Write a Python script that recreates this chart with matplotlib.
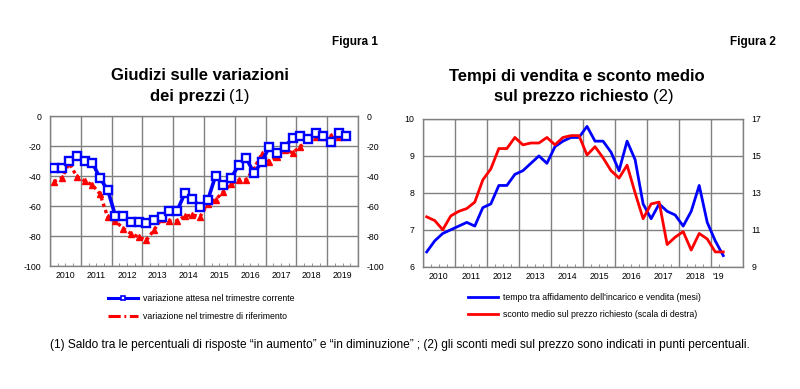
import matplotlib
matplotlib.use('Agg')
import matplotlib.pyplot as plt
from matplotlib.lines import Line2D
from matplotlib.transforms import blended_transform_factory
import numpy as np

plt.rcParams['font.family'] = ['Liberation Sans', 'DejaVu Sans']
plt.rcParams['axes.unicode_minus'] = False

# ---------------- data ----------------
years_left = [2010, 2011, 2012, 2013, 2014, 2015, 2016, 2017, 2018, 2019]
attesa = [-34.4, -34.4, -30, -26.4, -30, -31, -41.6, -49.3, -66.7, -66.7, -70.9, -70.9,
          -71.6, -69.3, -67, -63.3, -63.3, -51.6, -55.1, -60.9, -56, -39.8, -46, -41.6,
          -32.7, -28.2, -38.2, -30.4, -20.4, -24.4, -20.4, -14.9, -13.1, -15, -11.6, -13.1,
          -17.1, -11.6, -13.1]
riferimento = [-43.8, -41.5, -31.6, -40.4, -43.3, -46, -52, -67.5, -70, -75, -78.4, -80.6,
               -82.9, -76, -68.4, -70, -70, -66.8, -66, -67, -58.4, -55.7, -50.6, -45.4,
               -42.8, -42.5, -35, -25.4, -30.5, -27.6, -22.7, -24.5, -20.5, -14.9, -14.3, -13.8,
               -13.4, -14.3, -13]
left_yticks = [0, -20, -40, -60, -80, -100]

years_right = ['2010', '2011', '2012', '2013', '2014', '2015', '2016', '2017', '2018', "'19"]
tempo = [6.4, 6.7, 6.9, 7.0, 7.1, 7.2, 7.1, 7.6, 7.7, 8.2, 8.2, 8.5,
         8.6, 8.8, 9.0, 8.8, 9.25, 9.4, 9.5, 9.5, 9.8, 9.4, 9.4, 9.1,
         8.6, 9.4, 8.9, 7.7, 7.3, 7.7, 7.5, 7.4, 7.1, 7.5, 8.2, 7.2,
         6.7, 6.3]
sconto = [11.7, 11.5, 11.0, 11.75, 12.0, 12.15, 12.5, 13.7, 14.3, 15.4, 15.4, 16.0,
          15.6, 15.7, 15.7, 16.0, 15.6, 16.0, 16.1, 16.1, 15.05, 15.5, 14.9, 14.2,
          13.8, 14.5, 13.0, 11.6, 12.4, 12.5, 10.2, 10.6, 10.9, 9.9, 10.8, 10.5,
          9.8, 9.8]
right_yticks_l = [6, 7, 8, 9, 10]
right_yticks_r = [9, 11, 13, 15, 17]

xl = 2010 + (np.arange(len(attesa)) + 0.5) / 4
xr = 2010 + (np.arange(len(tempo)) + 0.5) / 4

BLUE = '#0000ff'
RED = '#ff0000'
GRID = '#808080'
TICKFS = 6.3

fig = plt.figure(figsize=(8, 3.89), dpi=100)
W, H = 800, 389


def style_axes(ax, xmax, labels, label_pos):
    ax.set_xlim(2010, xmax)
    bounds = [b for b in range(2010, int(np.ceil(xmax)) + 1)]
    ax.set_xticks(bounds)
    ax.set_xticklabels([''] * len(bounds))
    ax.set_xticks(np.arange(2010, xmax + 0.001, 0.25), minor=True)
    ax.tick_params(axis='x', which='major', length=0)
    ax.tick_params(axis='x', which='minor', length=2, direction='in', color=GRID)
    ax.grid(True, which='major', color=GRID, lw=1.0)
    ax.set_axisbelow(True)
    for s in ax.spines.values():
        s.set_color(GRID)
        s.set_linewidth(1.0)
    tr = blended_transform_factory(ax.transData, ax.transAxes)
    for lab, pos in zip(labels, label_pos):
        ax.text(pos, -0.035, lab, transform=tr, ha='center', va='top', fontsize=TICKFS)
    ax.tick_params(axis='y', which='both', length=0, labelsize=TICKFS, pad=6)


# ---------------- left chart ----------------
axL = fig.add_axes([50 / W, 1 - 266 / H, 308 / W, 150 / H])
axL.set_ylim(-100, 0)
axL.set_yticks(left_yticks)
style_axes(axL, 2020, [str(y) for y in years_left], [y + 0.5 for y in years_left])
axL.plot(xl, riferimento, color=RED, lw=2.4, ls=(0, (1, 1)), marker='^', ms=4,
         mfc=RED, mec=RED, zorder=3)
axL.plot(xl, attesa, color=BLUE, lw=2.6, marker='s', ms=6.3, mfc='white', mec=BLUE,
         mew=1.7, zorder=4)
axL2 = axL.twinx()
axL2.set_ylim(-100, 0)
axL2.set_yticks(left_yticks)
axL2.tick_params(axis='y', length=0, labelsize=TICKFS, pad=6)
for s in axL2.spines.values():
    s.set_visible(False)

# ---------------- right chart ----------------
axR = fig.add_axes([422.7 / W, 1 - 266.7 / H, 320.6 / W, 147.7 / H])
axR.set_ylim(6, 10)
axR.set_yticks(right_yticks_l)
xmaxR = 2019.45
style_axes(axR, xmaxR, years_right,
           [2010.5 + i for i in range(9)] + [2019.22])
axR.plot(xr, tempo, color=BLUE, lw=2.0, zorder=4)
axR2 = axR.twinx()
axR2.set_ylim(9, 17)
axR2.set_yticks(right_yticks_r)
axR2.tick_params(axis='y', length=0, labelsize=TICKFS, pad=6)
for s in axR2.spines.values():
    s.set_visible(False)
axR2.plot(xr, sconto, color=RED, lw=2.0, zorder=3)

# ---------------- titles ----------------
TFS = 12
fig.text(378 / W, 1 - 42 / H, 'Figura 1', ha='right', va='center',
         fontsize=8.5, fontweight='bold')
fig.text(776 / W, 1 - 42 / H, 'Figura 2', ha='right', va='center',
         fontsize=8.5, fontweight='bold')

renderer = fig.canvas.get_renderer()


def two_part(xc, y, bold_txt, norm_txt):
    tb = fig.text(0, y, bold_txt, ha='left', va='center', fontsize=TFS, fontweight='bold')
    tn = fig.text(0, y, norm_txt, ha='left', va='center', fontsize=TFS)
    wb = tb.get_window_extent(renderer).width
    wn = tn.get_window_extent(renderer).width
    gap = 4
    total = wb + gap + wn
    x0 = xc - total / 2
    tb.set_x(x0 / W)
    tn.set_x((x0 + wb + gap) / W)


fig.text(200 / W, 1 - 76 / H, 'Giudizi sulle variazioni', ha='center', va='center',
         fontsize=TFS, fontweight='bold')
two_part(200, 1 - 96 / H, 'dei prezzi', '(1)')
fig.text(577 / W, 1 - 76 / H, 'Tempi di vendita e sconto medio', ha='center',
         va='center', fontsize=TFS, fontweight='bold')
two_part(584, 1 - 96 / H, 'sul prezzo richiesto', '(2)')

# ---------------- legends ----------------
LFS = 6.3
hL = [Line2D([], [], color=BLUE, lw=2.2, marker='s', ms=3.5, mfc='white', mec=BLUE, mew=1.2),
      Line2D([], [], color=RED, lw=2.2, ls=(0, (4, 1.2, 0.6, 1.2)))]
fig.legend(hL, ['variazione attesa nel trimestre corrente',
                'variazione nel trimestre di riferimento'],
           loc='upper left', bbox_to_anchor=(104 / W, 1 - 290 / H), frameon=False,
           fontsize=LFS, handlelength=3.4, handletextpad=0.6, labelspacing=1.0,
           borderpad=0)
hR = [Line2D([], [], color=BLUE, lw=2.0), Line2D([], [], color=RED, lw=2.0)]
fig.legend(hR, ["tempo tra affidamento dell'incarico e vendita (mesi)",
                'sconto medio sul prezzo richiesto (scala di destra)'],
           loc='upper left', bbox_to_anchor=(464 / W, 1 - 289 / H), frameon=False,
           fontsize=LFS, handlelength=3.4, handletextpad=0.6, labelspacing=0.85,
           borderpad=0)

# ---------------- footnote ----------------
fig.text(400 / W, 1 - 345 / H,
         '(1) Saldo tra le percentuali di risposte \u201cin aumento\u201d e \u201cin diminuzione\u201d ; '
         '(2) gli sconti medi sul prezzo sono indicati in punti percentuali.',
         ha='center', va='center', fontsize=8.6)

fig.savefig('out.png', dpi=100)
